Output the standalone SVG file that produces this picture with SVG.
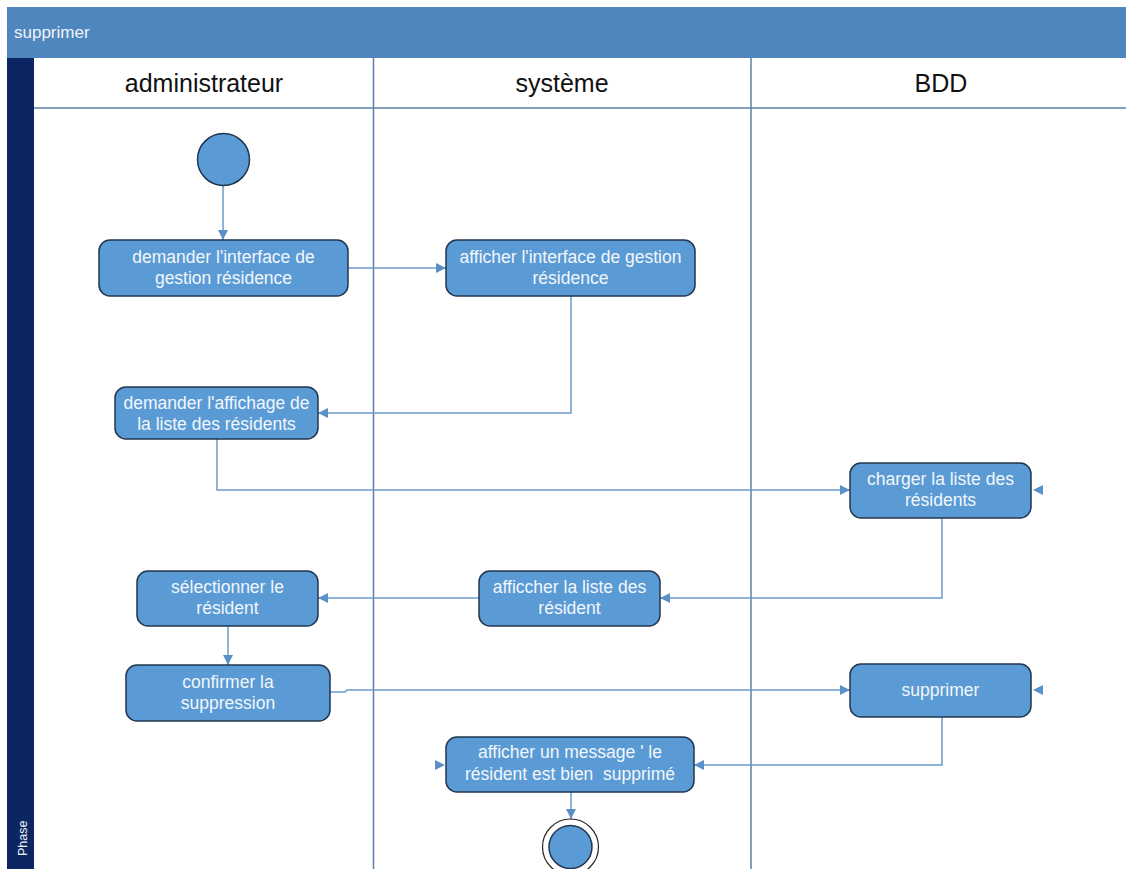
<svg xmlns="http://www.w3.org/2000/svg" width="1126" height="869" viewBox="0 0 1126 869">
  <style>
    .lbl { font-family: "Liberation Sans", Arial, sans-serif; fill: #F2F6FB; font-size: 17.5px; text-anchor: middle; white-space: pre; }
    .lane { font-family: "Liberation Sans", Arial, sans-serif; fill: #111111; font-size: 25px; text-anchor: middle; }
    .act { fill: #5B9BD5; stroke: #22364F; stroke-width: 1.5; }
    .conn { fill: none; stroke: #6C9BCB; stroke-width: 1.5; }
    .head { fill: #5B8FC7; }
    .div { stroke: #5D7FA6; stroke-width: 1.5; }
  </style>
  <defs>
    <marker id="arrow" markerUnits="userSpaceOnUse" markerWidth="10" markerHeight="10" refX="10" refY="5" orient="auto">
      <path d="M0,0 L10,5 L0,10 z" fill="#5B8FC7"/>
    </marker>
  </defs>

  <rect width="1126" height="869" fill="#FFFFFF"/>

  <!-- pool frame -->
  <g id="pool">
    <rect x="7" y="7" width="1119" height="51" fill="#4E86BD"/>
    <text x="14" y="38" font-family="'Liberation Sans', Arial, sans-serif" font-size="17" fill="#EEF3F9">supprimer</text>
    <rect x="7" y="58" width="27" height="811" fill="#0B2663"/>
    <text transform="translate(27,856) rotate(-90)" font-family="'Liberation Sans', Arial, sans-serif" font-size="12.5" fill="#F0F0F0">Phase</text>
    <line class="div" x1="34" y1="108" x2="1126" y2="108"/>
    <line class="div" x1="373.5" y1="58" x2="373.5" y2="869"/>
    <line class="div" x1="751" y1="58" x2="751" y2="869"/>
    <text class="lane" x="204" y="92">administrateur</text>
    <text class="lane" x="562" y="92">système</text>
    <text class="lane" x="941" y="92">BDD</text>
  </g>

  <!-- transitions -->
  <g id="connectors">
    <path class="conn" d="M223,186 V240" marker-end="url(#arrow)"/>
    <path class="conn" d="M348,268 H446" marker-end="url(#arrow)"/>
    <path class="conn" d="M571,296 V413 H318" marker-end="url(#arrow)"/>
    <path class="conn" d="M217,439 V490 H850" marker-end="url(#arrow)"/>
    <path class="conn" d="M942,518 V598 H660" marker-end="url(#arrow)"/>
    <path class="conn" d="M479,598 H318" marker-end="url(#arrow)"/>
    <path class="conn" d="M228,626 V665" marker-end="url(#arrow)"/>
    <path class="conn" d="M330,692 H345 L347,690 H850" marker-end="url(#arrow)"/>
    <path class="conn" d="M942,717 V765 H694" marker-end="url(#arrow)"/>
    <path class="conn" d="M571,792 V819" marker-end="url(#arrow)"/>
    <polygon class="head" points="1033,490 1043,485 1043,495"/>
    <polygon class="head" points="1033,690 1043,685 1043,695"/>
    <polygon class="head" points="445,765 435,760 435,770"/>
  </g>

  <g id="start">
    <circle cx="223.5" cy="159.5" r="26" fill="#5B9BD5" stroke="#22364F" stroke-width="1.5"/>
  </g>

  <g id="demander-interface">
    <rect class="act" x="99" y="240" width="249" height="56" rx="11"/>
    <text class="lbl" x="223.5" y="263">demander l'interface de</text>
    <text class="lbl" x="223.5" y="284">gestion résidence</text>
  </g>

  <g id="afficher-interface">
    <rect class="act" x="446" y="240" width="249" height="56" rx="11"/>
    <text class="lbl" x="570.5" y="263">afficher l'interface de gestion</text>
    <text class="lbl" x="570.5" y="284">résidence</text>
  </g>

  <g id="demander-affichage">
    <rect class="act" x="115" y="387" width="203" height="52" rx="11"/>
    <text class="lbl" x="216.5" y="409">demander l'affichage de</text>
    <text class="lbl" x="216.5" y="430">la liste des résidents</text>
  </g>

  <g id="charger-liste">
    <rect class="act" x="850" y="463" width="181" height="55" rx="11"/>
    <text class="lbl" x="940.5" y="485">charger la liste des</text>
    <text class="lbl" x="940.5" y="506">résidents</text>
  </g>

  <g id="afficher-liste">
    <rect class="act" x="479" y="571" width="181" height="55" rx="11"/>
    <text class="lbl" x="569.5" y="593">afficcher la liste des</text>
    <text class="lbl" x="569.5" y="614">résident</text>
  </g>

  <g id="selectionner">
    <rect class="act" x="137" y="571" width="181" height="55" rx="11"/>
    <text class="lbl" x="227.5" y="593">sélectionner le</text>
    <text class="lbl" x="227.5" y="614">résident</text>
  </g>

  <g id="confirmer">
    <rect class="act" x="126" y="665" width="204" height="56" rx="11"/>
    <text class="lbl" x="228" y="688">confirmer la</text>
    <text class="lbl" x="228" y="709">suppression</text>
  </g>

  <g id="supprimer">
    <rect class="act" x="850" y="664" width="181" height="53" rx="11"/>
    <text class="lbl" x="940.5" y="696">supprimer</text>
  </g>

  <g id="afficher-message">
    <rect class="act" x="446" y="737" width="248" height="55" rx="11"/>
    <text class="lbl" x="570" y="758">afficher un message ' le</text>
    <text class="lbl" x="570" y="780">résident est bien  supprimé</text>
  </g>

  <g id="end">
    <circle cx="570.5" cy="847" r="28" fill="#FFFFFF" stroke="#2B2420" stroke-width="1.2"/>
    <circle cx="570.5" cy="847" r="21.5" fill="#5B9BD5" stroke="#22364F" stroke-width="1.5"/>
  </g>
</svg>
